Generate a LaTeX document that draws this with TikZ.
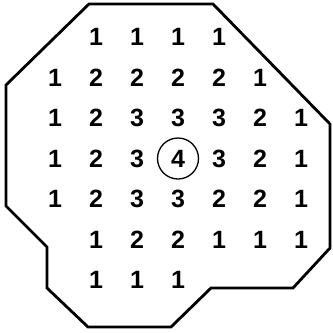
\documentclass[tikz,border=0pt]{standalone}
\usepackage{fontspec}
\setmainfont{Liberation Sans}
\usetikzlibrary{positioning}

\begin{document}
\begin{tikzpicture}[
  x=1pt, y=-1pt,
  num/.style={font=\fontsize{25}{25}\selectfont\bfseries, inner sep=0pt},
  ring/.style={circle, draw, line width=1.3pt, minimum size=41pt, inner sep=0pt},
  edge/.style={line width=2.8pt, line join=miter},
]
\useasboundingbox (0,0) rectangle (333,333);

% outline of the region
\draw[edge] (89,4) -- (213,4) -- (330,124) -- (330,248) -- (293,288)
  -- (211,288) -- (171,327) -- (88,327) -- (47,288) -- (47,247)
  -- (6,206) -- (6,85) -- cycle;

% distance values, one row at a time
\foreach \v [count=\c from 1] in {1,1,1,1}
  \node[num] (a\c) at ({55+41*\c},37) {\v};
\foreach \v [count=\c from 0] in {1,2,2,2,2,1}
  \node[num] (b\c) at ({55+41*\c},77.5) {\v};
\foreach \v [count=\c from 0] in {1,2,3,3,3,2,1}
  \node[num] (c\c) at ({55+41*\c},118) {\v};
\foreach \v [count=\c from 0] in {1,2,3,4,3,2,1}
  \node[num] (d\c) at ({55+41*\c},158.5) {\v};
\foreach \v [count=\c from 0] in {1,2,3,3,2,2,1}
  \node[num] (e\c) at ({55+41*\c},199) {\v};
\foreach \v [count=\c from 1] in {1,2,2,1,1,1}
  \node[num] (f\c) at ({55+41*\c},239.5) {\v};
\foreach \v [count=\c from 1] in {1,1,1}
  \node[num] (g\c) at ({55+41*\c},280) {\v};

% the maximum
\node[ring] (peak) at (d3) {};

\end{tikzpicture}
\end{document}
